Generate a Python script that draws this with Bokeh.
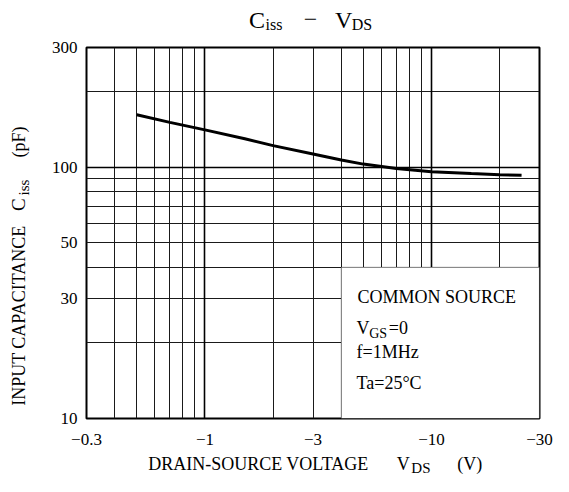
import math
from bokeh.plotting import figure
from bokeh.layouts import column, row
from bokeh.models import FixedTicker, Grid, BoxAnnotation, Label, Range1d
from bokeh.embed import file_html
from bokeh.resources import INLINE

# ---- data (magnitudes of V_DS in volts, C_iss in pF) ----
vds = [0.5, 0.7, 1.0, 1.5, 2.0, 3.0, 4.0, 5.0, 7.0, 10.0, 15.0, 20.0, 25.0]
ciss = [162, 151, 141, 130, 122, 113, 107, 103, 99, 96, 94.5, 93.5, 93]

x_ticks = [0.3, 1, 3, 10, 30]
x_tick_labels = ["\u22120.3", "\u22121", "\u22123", "\u221210", "\u221230"]
y_ticks = [10, 30, 50, 100, 300]
y_tick_labels = ["10", "30", "50", "100", "300"]

x_grid_minor = [0.4, 0.5, 0.6, 0.7, 0.8, 0.9, 2, 3, 4, 5, 6, 7, 8, 9, 20]
x_grid_major = [1, 10]
y_grid_minor = [20, 30, 40, 50, 60, 70, 80, 90, 200]
y_grid_major = [100]

legend_lines = ["COMMON SOURCE", "f=1MHz", "Ta=25\u00b0C"]

FONT = "Liberation Serif"
W, H = 553, 476
TOP_H, BOT_H, LEFT_W = 34, 26, 34
MID_H = H - TOP_H - BOT_H
FRAME_L, FRAME_R, FRAME_T, FRAME_B = 86, 539, 47, 418  # canvas pixels
SX = (FRAME_R - FRAME_L) / 463.0
SY = (FRAME_B - FRAME_T) / 381.0
BL = 0.32  # baseline correction (em)


def cx(x):
    return FRAME_L + (x - 88) * SX


def cy(y):
    return FRAME_T + (y - 44) * SY


def text_fig(w, h, xr, yr):
    f = figure(width=w, height=h, x_axis_type=None, y_axis_type=None,
               x_range=Range1d(*xr), y_range=Range1d(*yr), title=None,
               output_backend="svg", toolbar_location=None, min_border=0)
    f.outline_line_color = None
    f.background_fill_color = "white"
    f.border_fill_color = "white"
    return f


def lab(fig, text, x, base_y, size, units="data"):
    # data units here are canvas pixels (y downwards)
    fig.add_layout(Label(x=x, y=base_y - BL * size, x_units=units, y_units=units, text=text,
                         text_font=FONT, text_font_size=f"{size}px", text_color="black",
                         text_align="left", text_baseline="alphabetic"))


def vlab(fig, text, base_x, y, size):
    fig.add_layout(Label(x=base_x - BL * size, y=y, text=text, angle=math.pi / 2,
                         text_font=FONT, text_font_size=f"{size}px", text_color="black",
                         text_align="left", text_baseline="alphabetic"))


# ---- main chart ----
p = figure(width=W - LEFT_W, height=MID_H, x_axis_type="log", y_axis_type="log",
           x_range=(0.3, 30), y_range=(10, 300), title=None,
           output_backend="svg", toolbar_location=None,
           min_border_left=FRAME_L - LEFT_W, min_border_right=W - FRAME_R,
           min_border_top=FRAME_T - TOP_H, min_border_bottom=TOP_H + MID_H - FRAME_B)
p.background_fill_color = "white"
p.border_fill_color = "white"
p.outline_line_color = "black"
p.outline_line_width = 2

for ax, ticks, labels in ((p.xaxis, x_ticks, x_tick_labels), (p.yaxis, y_ticks, y_tick_labels)):
    ax.ticker = FixedTicker(ticks=ticks)
    ax.major_label_overrides = dict(zip(ticks, labels))
    ax.axis_line_color = None
    ax.major_tick_line_color = None
    ax.minor_tick_line_color = None
    ax.major_label_text_font = FONT
    ax.major_label_text_font_size = "17px"
    ax.major_label_text_color = "black"
p.xaxis.major_label_standoff = 9
p.yaxis.major_label_standoff = 3

p.xgrid.ticker = FixedTicker(ticks=x_grid_minor)
p.ygrid.ticker = FixedTicker(ticks=y_grid_minor)
for g in (p.xgrid, p.ygrid):
    g.grid_line_color = "#1a1a1a"
    g.grid_line_width = 1
p.add_layout(Grid(dimension=0, ticker=FixedTicker(ticks=x_grid_major),
                  grid_line_color="black", grid_line_width=1.6))
p.add_layout(Grid(dimension=1, ticker=FixedTicker(ticks=y_grid_major),
                  grid_line_color="black", grid_line_width=1.6))

p.line(vds, ciss, line_width=3, line_color="black")

p.add_layout(BoxAnnotation(left=4, right=30, bottom=10, top=40, fill_color="white",
                           fill_alpha=1, line_color="black", line_width=1.2))


def plab(text, x, y, size):
    # screen units relative to the frame (y up from frame bottom)
    p.add_layout(Label(x=cx(x) - FRAME_L, y=FRAME_B - cy(y) + BL * size,
                       x_units="screen", y_units="screen", text=text,
                       text_font=FONT, text_font_size=f"{size}px", text_color="black",
                       text_align="left", text_baseline="alphabetic"))


plab(legend_lines[0], 365, 306, 18)
plab("V", 364, 338, 18)
plab("GS", 377, 342, 14)
plab("=0", 397, 338, 18)
plab(legend_lines[1], 364, 363, 18)
plab(legend_lines[2], 364, 394, 18)

# ---- title strip (data = canvas pixels) ----
ft = text_fig(W, TOP_H, (0, W), (TOP_H, 0))
lab(ft, "C", cx(254), 27, 24)
lab(ft, "iss", cx(271), 29.5, 16)
lab(ft, "\u2212", cx(310), 27, 24)
lab(ft, "V", cx(342), 27, 24)
lab(ft, "DS", cx(359), 29.5, 16)

# ---- y label strip (frame is aligned with the chart frame) ----
fl = text_fig(LEFT_W, MID_H, (0, LEFT_W), (FRAME_B, FRAME_T))
vlab(fl, "INPUT CAPACITANCE", 24, cy(412), 18)
vlab(fl, "C", 24, cy(212), 19)
vlab(fl, "iss", 28, cy(196), 15)
vlab(fl, "(pF)", 24, cy(157), 18)

# ---- x label strip ----
fb = text_fig(W, BOT_H, (0, W), (H, H - BOT_H))
lab(fb, "DRAIN-SOURCE VOLTAGE", cx(151), 469, 18)
lab(fb, "V", cx(405), 469, 18)
lab(fb, "DS", cx(420), 472, 15)
lab(fb, "(V)", cx(467), 469, 18)

layout = column(ft, row(fl, p), fb)
open("out.html", "w").write(file_html(layout, INLINE))
